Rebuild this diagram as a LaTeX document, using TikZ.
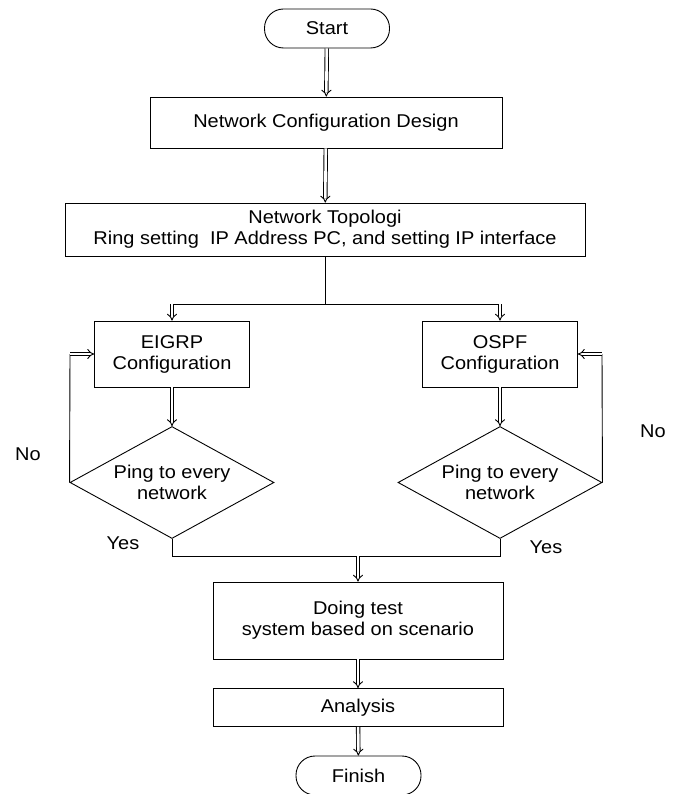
\documentclass[tikz,border=0pt]{standalone}
\usepackage{fontspec}
\setmainfont{Liberation Sans}[FakeStretch=1.08]
\usetikzlibrary{arrows.meta,shapes.geometric,positioning}

\begin{document}
\begin{tikzpicture}[x=1pt,y=-1pt,
    line width=0.9pt,
    font=\fontsize{18.5}{21}\selectfont,
    box/.style={draw,rectangle,inner sep=0pt,align=center},
    term/.style={draw,rectangle,rounded corners=19pt,inner sep=0pt,minimum width=125pt,minimum height=39pt},
    ping/.style={draw,diamond,aspect=1.82,inner sep=0pt,minimum width=204pt,minimum height=112pt,align=center},
    dbl/.style={double,double distance=2.6pt,-{Implies}}]
  \useasboundingbox (0,0) rectangle (676,794);
  % boxes
  \node[term] (start) at (327,28.5) {Start};
  \node[box,minimum width=352pt,minimum height=51pt] (design) at (326,122.5) {Network Configuration Design};
  \node[box,minimum width=520pt,minimum height=53pt] (topo) at (325,229.5) {Network Topologi\\Ring setting\ \ IP Address PC, and setting IP interface};
  \node[box,minimum width=155pt,minimum height=66pt] (eigrp) at (172,354) {EIGRP\\Configuration};
  \node[box,minimum width=155pt,minimum height=66pt] (ospf) at (500,354) {OSPF\\Configuration};
  \node[ping] (pingL) at (172,482.5) {Ping to every\\network};
  \node[ping] (pingR) at (500,482.5) {Ping to every\\network};
  \node[box,minimum width=290pt,minimum height=77pt] (test) at (358,620.5) {Doing test\\system based on scenario};
  \node[box,minimum width=290pt,minimum height=38pt] (analysis) at (358,707.5) {Analysis};
  \node[term] (finish) at (358.5,775.5) {Finish};
  % labels
  \node (noL) at (28,454) {No};
  \node (noR) at (653,431) {No};
  \node (yesL) at (123,543) {Yes};
  \node (yesR) at (546,547) {Yes};
  % joints
  \coordinate (split) at (325,304);
  \coordinate (join) at (358,556);
  \coordinate (backL) at (70,354);
  \coordinate (backR) at (602,354);
  % connectors
  \draw[dbl] (start) -- (design);
  \draw[dbl] (design) -- (topo);
  \draw (topo.south) -- (split);
  \draw (eigrp.north |- split) -- (ospf.north |- split);
  \draw[dbl] (eigrp.north |- split) -- (eigrp);
  \draw[dbl] (ospf.north |- split) -- (ospf);
  \draw[dbl] (eigrp) -- (pingL);
  \draw[dbl] (ospf) -- (pingR);
  \draw (pingL.west) -- (backL);
  \draw[dbl] (backL) -- (eigrp.west);
  \draw (pingR.east) -- (backR);
  \draw[dbl] (backR) -- (ospf.east);
  \draw (pingL.south) -- (pingL.south |- join) -- (pingR.south |- join) -- (pingR.south);
  \draw[dbl] (join) -- (test);
  \draw[dbl] (test) -- (analysis);
  \draw[dbl] (analysis) -- (finish);
\end{tikzpicture}
\end{document}
